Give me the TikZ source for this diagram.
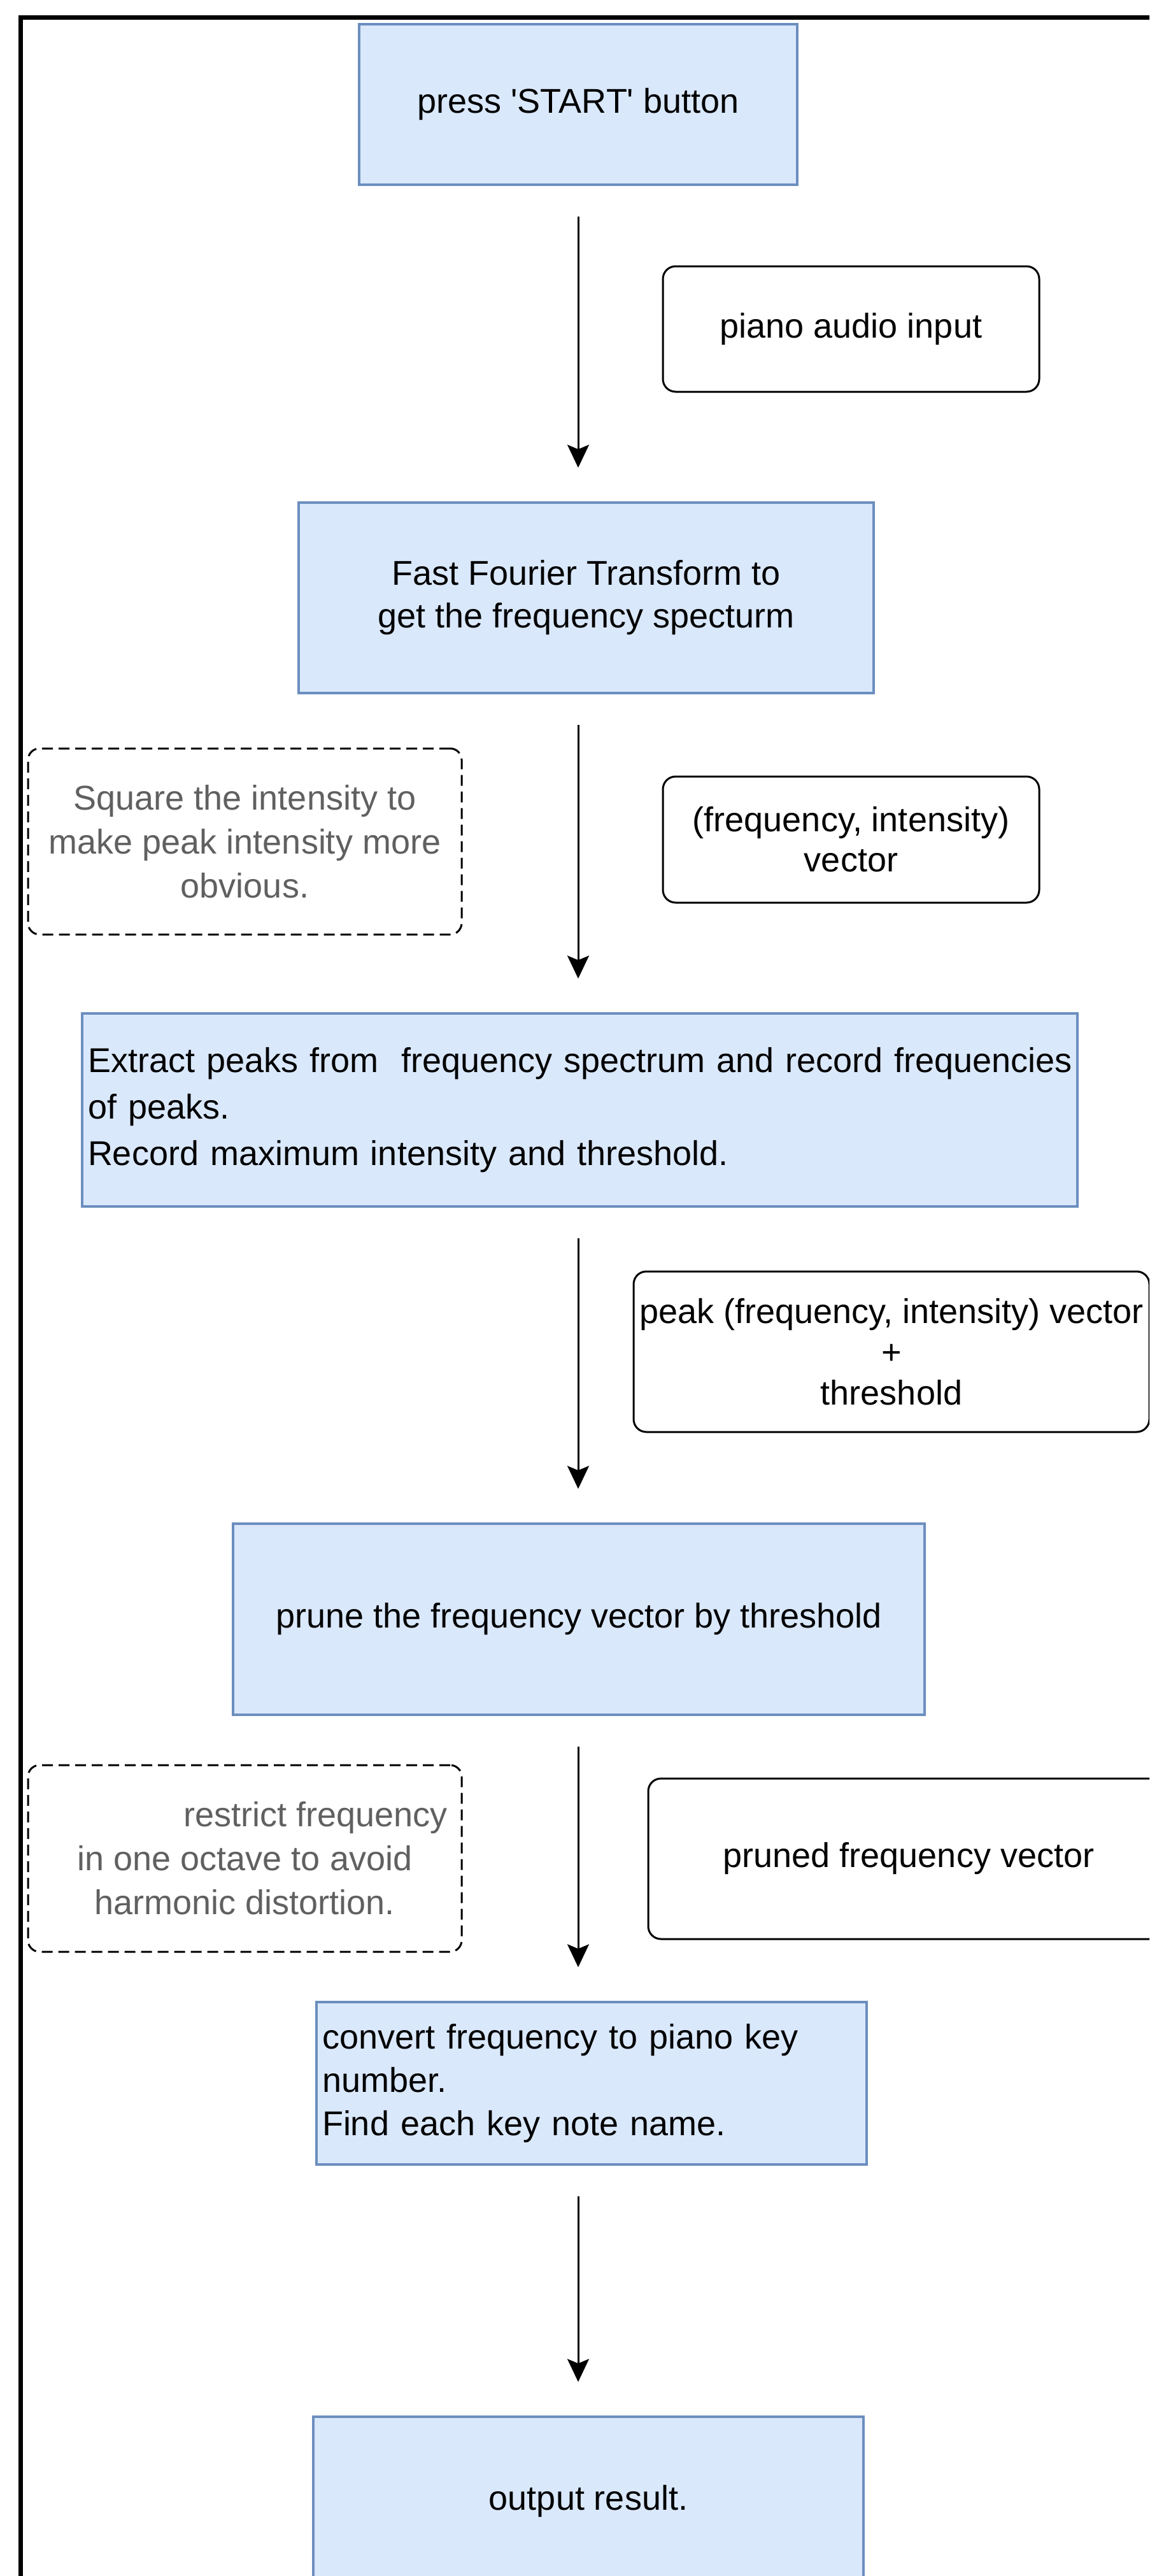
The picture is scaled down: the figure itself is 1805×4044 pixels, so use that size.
\documentclass[tikz,border=0pt]{standalone}
\usepackage{fontspec}
\setmainfont{Liberation Sans}
\usetikzlibrary{arrows.meta}
\definecolor{bluefill}{HTML}{DAE8FC}
\definecolor{blueedge}{HTML}{6C8EBF}
\definecolor{notegray}{HTML}{606060}
\tikzset{
  base/.style={font=\fontsize{54}{70}\selectfont, inner sep=2pt},
  procbox/.style={base, draw=blueedge, fill=bluefill, line width=3.5pt, align=center},
  leftbox/.style={procbox, align=left, inner xsep=9pt},
  databox/.style={base, draw=black, rounded corners=20pt, line width=3pt, align=center},
  notebox/.style={base, draw=black, dash pattern=on 17pt off 9pt, rounded corners=18pt, line width=3pt, text=notegray, align=center},
  flow/.style={line width=3pt, -{Stealth[length=36pt,width=34pt,inset=7pt]}, shorten <=48pt, shorten >=53pt}
}
\begin{document}
\begin{tikzpicture}[x=1pt,y=-1pt]
\useasboundingbox (0,0) rectangle (1805,4044);
\clip (0,0) rectangle (1805,4044);
\fill[white] (0,0) rectangle (1805,4044);
\draw[line width=7pt] (32,28) rectangle (1950,4150);

\coordinate (ax) at (908,0);

\node[procbox, minimum width=688pt, minimum height=252pt] (b1) at (908,164) {press \textquotesingle START\textquotesingle\ button};
\node[databox, minimum width=591pt, minimum height=197pt] (in1) at (1336.5,516.5) {piano audio input};

\node[procbox, minimum width=903pt, minimum height=299pt, font=\fontsize{54}{67}\selectfont] (b2) at (920.5,938.5) {Fast Fourier Transform to\\get the frequency specturm};
\node[notebox, minimum width=681pt, minimum height=292pt, font=\fontsize{54}{69}\selectfont] (n1) at (384.5,1321) {Square the intensity to\\make peak intensity more\\obvious.};
\node[databox, minimum width=591pt, minimum height=198pt, font=\fontsize{54}{63}\selectfont] (in2) at (1336.5,1318) {(frequency, intensity)\\vector};

\node[leftbox, text width=1545pt, minimum height=303pt, font=\fontsize{54}{73}\selectfont] (b3) at (910.5,1742.5) {\mbox{Extract peaks from\ \ frequency spectrum and record frequencies}\\of peaks.\\Record maximum intensity and threshold.};
\node[databox, minimum width=810pt, minimum height=252pt, font=\fontsize{54}{64}\selectfont] (in3) at (1400,2122) {peak (frequency, intensity) vector\\+\\threshold};

\node[procbox, minimum width=1086pt, minimum height=300pt] (b4) at (909,2542) {prune the frequency vector by threshold};
\node[notebox, minimum width=681pt, minimum height=293pt, font=\fontsize{54}{69}\selectfont] (n2) at (384.5,2917.5) {\hspace*{222pt}restrict frequency\\in one octave to avoid\\harmonic distortion.};
\node[databox, minimum width=818pt, minimum height=252pt] (in4) at (1427,2918) {pruned frequency vector};

\node[leftbox, text width=846pt, minimum height=255pt, font=\fontsize{54}{68}\selectfont] (b5) at (929,3270.5) {\mbox{convert frequency to piano key}\\number.\\Find each key note name.};
\node[procbox, minimum width=864pt, minimum height=264pt] (b6) at (924,3926) {output result.};

\draw[flow] (b1.south -| ax) -- (b2.north -| ax);
\draw[flow] (b2.south -| ax) -- (b3.north -| ax);
\draw[flow] (b3.south -| ax) -- (b4.north -| ax);
\draw[flow] (b4.south -| ax) -- (b5.north -| ax);
\draw[flow] (b5.south -| ax) -- (b6.north -| ax);
\end{tikzpicture}
\end{document}
